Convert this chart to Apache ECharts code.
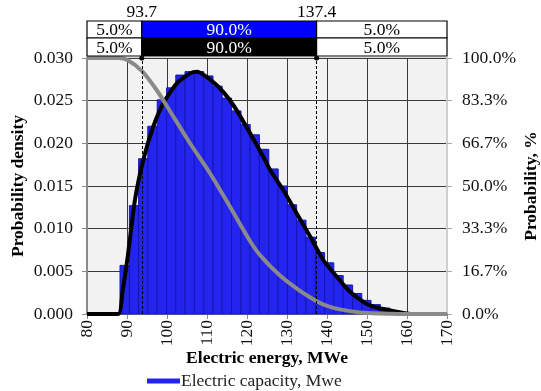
<!DOCTYPE html>
<html><head><meta charset="utf-8">
<script src="https://cdn.jsdelivr.net/npm/echarts@6/dist/echarts.min.js"></script>
<style>html,body{margin:0;padding:0;background:#fff}#c{width:541px;height:391px}</style>
</head><body><div id="c"></div>
<script>
// ---- data ----
const binEdges = [88.25, 90.6, 92.9, 95.2, 97.55, 99.9, 102.2, 104.5, 106.85, 109.2, 111.5, 113.8, 116.15, 118.5, 120.8, 123.1, 125.45, 127.8, 130.1, 132.4, 134.75, 137.1, 139.4, 141.7, 144.05, 146.4, 148.7, 151.0, 153.35, 155.7, 158.0];
const binHeights = [0.0057, 0.0127, 0.0182, 0.0220, 0.0251, 0.0265, 0.0280, 0.0284, 0.0284, 0.0279, 0.0267, 0.0253, 0.0238, 0.0222, 0.0210, 0.0193, 0.0170, 0.0150, 0.0128, 0.0110, 0.0090, 0.0072, 0.0060, 0.0045, 0.0034, 0.0024, 0.0016, 0.0011, 0.0007, 0.0003];
const pdfX = [80, 87.8, 88.9, 90.2, 92.0, 94.1, 96.6, 99.1, 102.4, 105.75, 107.5, 110.75, 114.1, 117.4, 120.75, 124.1, 125.75, 129.1, 132.4, 135.75, 139.1, 142.4, 145.75, 149.5, 152.8, 157, 159.5, 162, 170];
const pdfY = [0, 0, 0.0027, 0.0068, 0.0134, 0.0181, 0.0220, 0.0247, 0.0270, 0.0282, 0.0284, 0.0275, 0.0260, 0.0239, 0.0212, 0.0184, 0.0169, 0.0145, 0.0118, 0.0091, 0.0063, 0.0044, 0.0026, 0.0013, 0.0007, 0.0003, 0.0001, 0, 0];
const survX = [80, 88, 90, 93.7, 97.4, 101.6, 105.75, 110.75, 115.75, 120.75, 123.25, 128.25, 133.25, 137.4, 140, 143.25, 148.25, 153.25, 158, 170];
const survY = [100, 100, 99.3, 95.0, 87.5, 77.1, 66.7, 55.0, 41.9, 28.5, 23.0, 15.0, 9.0, 5.0, 3.2, 1.8, 0.6, 0.15, 0, 0];
const quantiles = [93.7, 137.4];
const quantileLabels = ['93.7', '137.4'];
const shareLabels = ['5.0%', '90.0%', '5.0%'];
const xMin = 80, xMax = 170, xStep = 10;
const leftMax = 0.03, leftStep = 0.005;
const rightMax = 100, rightStep = 100 / 6;
const seriesName = 'Electric capacity, Mwe';

const FONT = 'Liberation Serif';
const FS = 17.5;
const chart = echarts.init(document.getElementById('c'));
const barData = binHeights.map((h, i) => [binEdges[i], binEdges[i + 1], h]);

chart.setOption({
  animation: false,
  backgroundColor: '#fff',
  grid: { left: 87, right: 94, top: 58, bottom: 77, outerBoundsMode: 'none', containLabel: false,
    show: true, backgroundColor: '#f2f2f2', borderColor: '#cfcfcf', borderWidth: 1.5 },
  legend: {
    data: [seriesName], left: 142, top: 367, icon: 'rect', itemWidth: 33, itemHeight: 5, itemGap: 10,
    textStyle: { fontFamily: FONT, fontSize: FS, color: '#222', padding: [0, 0, 0, -4] }
  },
  xAxis: {
    type: 'value', min: xMin, max: xMax, interval: xStep,
    name: 'Electric energy, MWe', nameLocation: 'middle', nameGap: 35, nameMoveOverlap: false,
    nameTextStyle: { fontFamily: FONT, fontSize: FS, fontWeight: 'bold', color: '#000' },
    axisLine: { show: true, onZero: false, lineStyle: { color: '#8a8a8a', width: 2 } },
    axisTick: { show: true, length: 5, lineStyle: { color: '#8a8a8a' } },
    axisLabel: { rotate: 90, margin: 6, fontFamily: FONT, fontSize: FS, color: '#111' },
    splitLine: { show: true, lineStyle: { color: '#3a3a3a', width: 1 } }
  },
  yAxis: [{
    type: 'value', min: 0, max: leftMax, interval: leftStep,
    name: 'Probability density', nameLocation: 'middle', nameGap: 60, nameMoveOverlap: false,
    nameTextStyle: { fontFamily: FONT, fontSize: FS, fontWeight: 'bold', color: '#000' },
    axisLine: { show: true, lineStyle: { color: '#8a8a8a', width: 2 } },
    axisTick: { show: true, length: 5, lineStyle: { color: '#8a8a8a' } },
    axisLabel: { margin: 14, fontFamily: FONT, fontSize: FS, color: '#111', formatter: v => v.toFixed(3) },
    splitLine: { show: true, lineStyle: { color: '#3a3a3a', width: 1 } }
  }, {
    type: 'value', min: 0, max: rightMax, interval: rightStep, position: 'right',
    name: 'Probability, %', nameLocation: 'middle', nameGap: 75, nameRotate: 90, nameMoveOverlap: false,
    nameTextStyle: { fontFamily: FONT, fontSize: FS, fontWeight: 'bold', color: '#000' },
    axisLine: { show: true, lineStyle: { color: '#cfcfcf', width: 2 } },
    axisTick: { show: true, length: 5, lineStyle: { color: '#aaa' } },
    axisLabel: { margin: 15, fontFamily: FONT, fontSize: FS, color: '#111', formatter: v => v.toFixed(1) + '%' },
    splitLine: { show: false }
  }],
  series: [{
    name: seriesName, type: 'custom', data: barData, encode: { x: [0, 1], y: 2 },
    itemStyle: { color: '#2222f2' },
    renderItem: (params, api) => {
      const p0 = api.coord([api.value(0), api.value(2)]);
      const p1 = api.coord([api.value(1), 0]);
      return { type: 'rect', shape: { x: p0[0], y: p0[1], width: p1[0] - p0[0], height: p1[1] - p0[1] },
        style: { fill: '#2424f0', stroke: '#1616b0', lineWidth: 1 } };
    },
    z: 2
  }, {
    name: 'pdf', type: 'line', data: pdfX.map((x, i) => [x, pdfY[i]]), showSymbol: false, smooth: 0.2,
    lineStyle: { color: '#000', width: 4 }, z: 3,
    markLine: {
      silent: true, symbol: ['none', 'circle'], symbolSize: 5, label: { show: false },
      lineStyle: { type: [3, 2], color: '#000', width: 1 },
      data: quantiles.map(q => ({ xAxis: q }))
    }
  }, {
    name: 'cdf', type: 'line', yAxisIndex: 1, data: survX.map((x, i) => [x, survY[i]]), showSymbol: false, smooth: 0.3,
    lineStyle: { color: '#8a8a8a', width: 4 }, z: 4
  }]
});

// top table, positioned through the x axis scale
const xs = [xMin, quantiles[0], quantiles[1], xMax].map(v => chart.convertToPixel({ xAxisIndex: 0 }, v));
const rows = [{ y: 21, h: 17, mid: '#0000ff' }, { y: 38, h: 18, mid: '#000000' }];
const g = [];
rows.forEach(r => {
  for (let i = 0; i < 3; i++) {
    const fill = i === 1 ? r.mid : '#ffffff';
    g.push({ type: 'rect', shape: { x: xs[i], y: r.y, width: xs[i + 1] - xs[i], height: r.h },
      style: { fill, stroke: '#000', lineWidth: 1.2 }, z: 10 });
    g.push({ type: 'text', x: (xs[i] + xs[i + 1]) / 2, y: r.y + r.h / 2 + 1, z: 11,
      style: { text: shareLabels[i], fill: i === 1 ? '#fff' : '#000', font: FS + 'px "' + FONT + '"', align: 'center', verticalAlign: 'middle' } });
  }
});
quantileLabels.forEach((t, i) => {
  g.push({ type: 'text', x: xs[i + 1], y: 12, z: 11,
    style: { text: t, fill: '#000', font: FS + 'px "' + FONT + '"', align: 'center', verticalAlign: 'middle' } });
});
chart.setOption({ graphic: g });
</script></body></html>
